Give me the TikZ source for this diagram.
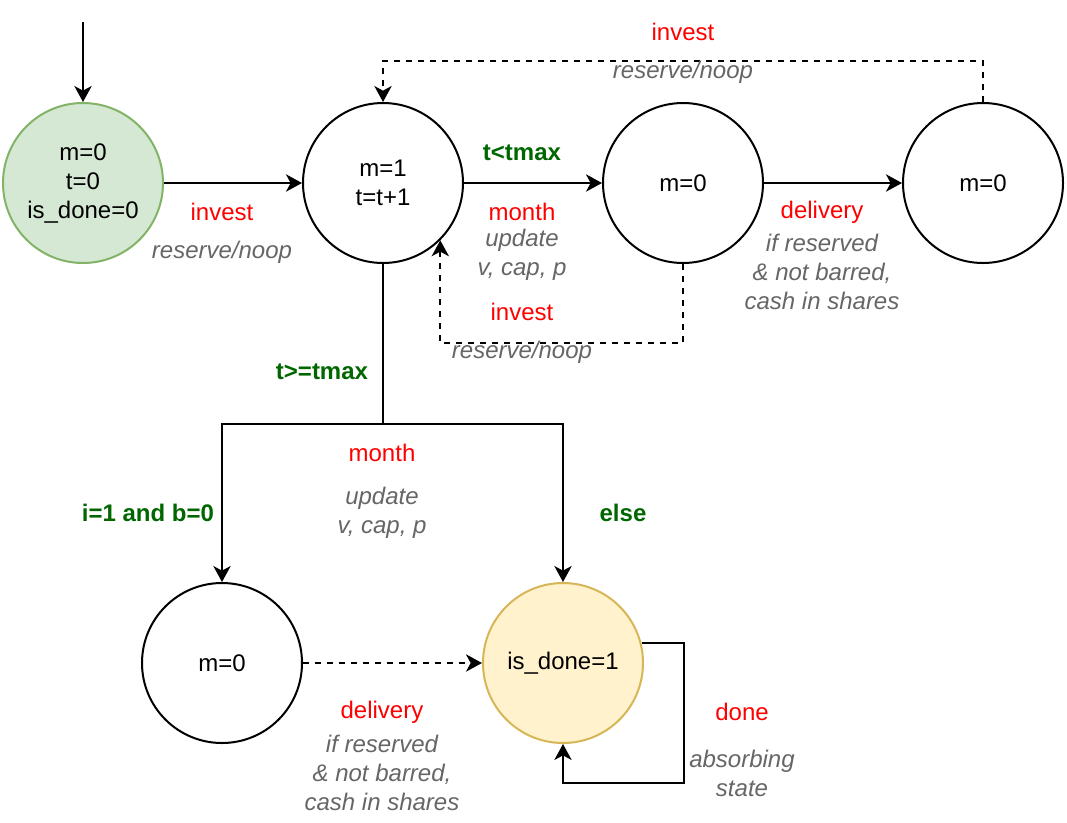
\documentclass[tikz,border=0pt]{standalone}
\usepackage{fontspec}
\setmainfont{Liberation Sans}
\usetikzlibrary{arrows.meta}
\definecolor{gfill}{HTML}{D5E8D4}
\definecolor{gline}{HTML}{82B366}
\definecolor{yfill}{HTML}{FFF2CC}
\definecolor{yline}{HTML}{D6B656}
\definecolor{lblred}{HTML}{FF0000}
\definecolor{lblgreen}{HTML}{006600}
\definecolor{lblgray}{HTML}{666666}
\begin{document}
\begin{tikzpicture}[x=0.75pt,y=-0.75pt,
  every node/.style={font=\fontsize{18}{21.75}\selectfont},
  state/.style={circle,draw=black,line width=1.5pt,minimum size=120pt,inner sep=0pt,align=center},
  conn/.style={line width=1.5pt,line join=miter},
  arr/.style={conn,-{Stealth[length=12pt,width=13pt,inset=3.5pt]}},
  dsh/.style={dash pattern=on 4.5pt off 4.5pt},
  lbl/.style={align=center,inner sep=0pt},
  actn/.style={lbl,text=lblred},
  note/.style={lbl,text=lblgray,font=\fontsize{18}{21.75}\selectfont\itshape},
  cond/.style={lbl,text=lblgreen,font=\fontsize{18}{21.75}\selectfont\bfseries}
]
\useasboundingbox (0,0) rectangle (1067,822);

% states
\node[state,fill=gfill,draw=gline] (A) at (83,183) {m=0\\t=0\\is\_done=0};
\node[state] (B) at (383,183) {m=1\\t=t+1};
\node[state] (C) at (683,183) {m=0};
\node[state] (D) at (983,183) {m=0};
\node[state] (E) at (222,663) {m=0};
\node[state,fill=yfill,draw=yline] (F) at (563,663) {is\_done=1};

% start
\coordinate (start) at (83,22);
\draw[arr] (start) -- (A);

% main edges
\draw[arr] (A) -- (B);
\draw[arr] (B) -- (C);
\draw[arr] (C) -- (D);
\draw[arr,dsh] (D.north) -- ++(0,-41) -| (B.north);
\draw[arr,dsh] (C.south) -- ++(0,79) -| (B.-45);

% split
\draw[conn] (B.south) -- ++(0,160) coordinate (br);
\draw[arr] (br) -| (E.north);
\draw[arr] (br) -| (F.north);
\draw[arr,dsh] (E) -- (F);
\draw[arr] (F.14.5) -- ++(42.5,0) -- ++(0,140) -| (F.south);

% labels
\node[actn] at (222,212) {invest};
\node[note] at (222,252) {reserve/noop};

\node[cond] at (522,153) {t<tmax};
\node[actn] at (522,212) {month};
\node[note] at (522,255) {update\\v, cap, p};

\node[actn] at (822,212) {delivery};
\node[note] at (822,272) {if reserved\\\& not barred,\\cash in shares};

\node[actn] at (683,32) {invest};
\node[note] at (683,72) {reserve/noop};

\node[actn] at (522,312) {invest};
\node[note] at (522,352) {reserve/noop};

\node[cond] at (322,372) {t>=tmax};
\node[actn] at (382,453) {month};
\node[note] at (382,513) {update\\v, cap, p};
\node[cond] at (148,513) {i=1 and b=0};
\node[cond] at (623,513) {else};

\node[actn] at (382,712) {delivery};
\node[note] at (382,773) {if reserved\\\& not barred,\\cash in shares};

\node[actn] at (742,712) {done};
\node[note] at (742,773) {absorbing\\state};
\end{tikzpicture}
\end{document}
